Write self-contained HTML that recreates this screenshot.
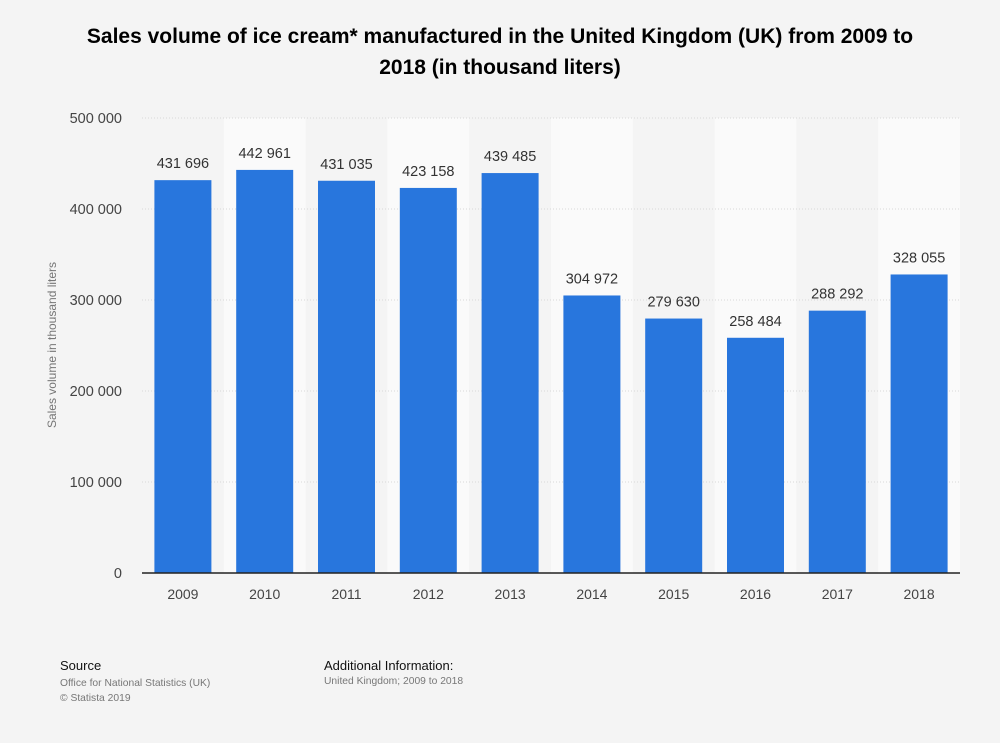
<!DOCTYPE html>
<html><head><meta charset="utf-8">
<style>
body{margin:0;background:#f4f4f4;font-family:"Liberation Sans",Arial,sans-serif;}
#wrap{position:relative;width:1000px;height:743px;background:#f4f4f4;overflow:hidden;}
.t{position:absolute;}
</style></head><body>
<div id="wrap">
<div class="t" style="left:75px;width:850px;top:21px;text-align:center;font-weight:bold;font-size:21px;line-height:31px;color:#000;">Sales volume of ice cream* manufactured in the United Kingdom (UK) from 2009 to 2018 (in thousand liters)</div>
<svg id="chart" width="1000" height="743" style="position:absolute;left:0;top:0;"></svg>
<div class="t" style="left:60px;top:658px;font-size:13px;color:#111;">Source</div>
<div class="t" style="left:60px;top:676px;font-size:10.3px;color:#777;line-height:15px;">Office for National Statistics (UK)<br>© Statista 2019</div>
<div class="t" style="left:324px;top:658px;font-size:13px;color:#111;">Additional Information:</div>
<div class="t" style="left:324px;top:676px;font-size:10.3px;color:#777;">United Kingdom; 2009 to 2018</div>
</div>
<script>
const categories=["2009","2010","2011","2012","2013","2014","2015","2016","2017","2018"];
const values=[431696,442961,431035,423158,439485,304972,279630,258484,288292,328055];
const yTicks=[0,100000,200000,300000,400000,500000];
const NS="http://www.w3.org/2000/svg";
const svg=document.getElementById('chart');
const x0=142,x1=960,yTop=118,yBot=573,yMax=500000;
const band=(x1-x0)/categories.length;
const y=v=>yBot-(v/yMax)*(yBot-yTop);
const xc=i=>x0+band*(i+0.5);
const fmt=v=>String(v).replace(/\B(?=(\d{3})+(?!\d))/g,' ');
function mk(tag,attrs){const e=document.createElementNS(NS,tag);for(const k in attrs)e.setAttribute(k,attrs[k]);svg.appendChild(e);return e;}
categories.forEach((c,i)=>{if(i%2===1){const r=mk('rect',{x:x0+band*i,y:yTop,width:band,height:yBot-yTop,fill:'#fafafa'});

}});
yTicks.forEach(t=>{
 if(t>0){const l=mk('line',{x1:x0,x2:x1,y1:y(t),y2:y(t),stroke:'#d8d8d8','stroke-dasharray':'1,2'});
 
 }
 const tx=mk('text',{x:122,y:y(t)+5,'text-anchor':'end','font-size':'14.5',fill:'#444'});tx.textContent=fmt(t);
 
 
});
const bw=57;
values.forEach((v,i)=>{
 const b=mk('rect',{x:xc(i)-bw/2,y:y(v),width:bw,height:yBot-y(v),fill:'#2876dd'});
 
 
 const lb=mk('text',{x:xc(i),y:y(v)-12,'text-anchor':'middle','font-size':'14.5',fill:'#333'});lb.textContent=fmt(v);
 
 
 const xl=mk('text',{x:xc(i),y:599,'text-anchor':'middle','font-size':'14',fill:'#444'});xl.textContent=categories[i];
 
 
});
const ax=mk('line',{x1:x0,x2:x1,y1:yBot,y2:yBot,stroke:'#222','stroke-width':1.5});


const at=mk('text',{x:0,y:0,'text-anchor':'middle','font-size':'12',fill:'#777',transform:'translate(56,345) rotate(-90)'});at.textContent='Sales volume in thousand liters';


</script>
</body></html>
